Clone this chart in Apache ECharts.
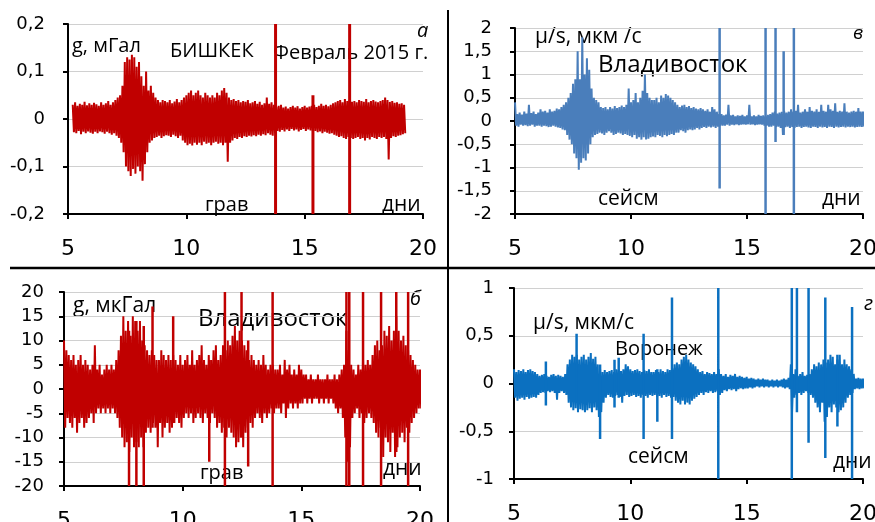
<!DOCTYPE html>
<html>
<head>
<meta charset="utf-8">
<script src="https://cdn.jsdelivr.net/npm/echarts@6/dist/echarts.min.js"></script>
<style>
  html, body { margin: 0; padding: 0; background: #fff; }
  #chart { width: 875px; height: 522px; }
</style>
</head>
<body>
<div id="chart"></div>
<script>
    // envelope samples every 0.1 day: upper / lower extremes of the trace
    const STEP = 0.1;

    // а: Бишкек, грав, мГал (t from 5.2)
    const bishkekStart = 5.2;
    const bishkekUp = [
        0.03, 0.035, 0.028, 0.032, 0.03, 0.036, 0.029, 0.033, 0.03, 0.034,
        0.031, 0.028, 0.035, 0.03, 0.033, 0.038, 0.03, 0.035, 0.04, 0.045,
        0.05, 0.07, 0.12, 0.13, 0.125, 0.135, 0.13, 0.11, 0.12, 0.09,
        0.07, 0.1, 0.06, 0.07, 0.055, 0.045, 0.04, 0.035, 0.04, 0.038,
        0.035, 0.04, 0.033, 0.037, 0.042, 0.035, 0.04, 0.045, 0.05, 0.055,
        0.06, 0.05, 0.055, 0.06, 0.05, 0.045, 0.055, 0.05, 0.045, 0.05,
        0.045, 0.055, 0.05, 0.06, 0.065, 0.055, 0.045, 0.04, 0.042, 0.038,
        0.04, 0.035, 0.038, 0.036, 0.04, 0.033, 0.035, 0.038, 0.032, 0.036,
        0.03, 0.033, 0.045, 0.032, 0.035, 0.03, 0.025, 0.028, 0.03, 0.024,
        0.026, 0.022, 0.025, 0.028, 0.024, 0.027, 0.022, 0.025, 0.028, 0.024,
        0.026, 0.028, 0.03, 0.025, 0.028, 0.032, 0.028, 0.03, 0.027, 0.03,
        0.033, 0.035, 0.038, 0.04, 0.035, 0.042, 0.038, 0.04, 0.036, 0.038,
        0.035, 0.04, 0.038, 0.036, 0.042, 0.035, 0.038, 0.04, 0.037, 0.035,
        0.038, 0.04, 0.045, 0.04, 0.036, 0.038, 0.034, 0.035, 0.032, 0.033,
        0.03
    ];
    const bishkekDown = [
        -0.028, -0.03, -0.025, -0.032, -0.027, -0.03, -0.026, -0.029, -0.031, -0.027,
        -0.03, -0.026, -0.028, -0.031, -0.027, -0.03, -0.033, -0.03, -0.035, -0.04,
        -0.05, -0.07, -0.1, -0.11, -0.12, -0.105, -0.115, -0.1, -0.11, -0.13,
        -0.095, -0.07, -0.05, -0.045, -0.04, -0.038, -0.035, -0.04, -0.036, -0.034,
        -0.035, -0.038, -0.033, -0.036, -0.04, -0.035, -0.045, -0.05, -0.055, -0.052,
        -0.056, -0.05, -0.054, -0.05, -0.055, -0.048, -0.052, -0.05, -0.055, -0.05,
        -0.048, -0.052, -0.05, -0.055, -0.05, -0.09, -0.05, -0.045, -0.04, -0.042,
        -0.038, -0.04, -0.036, -0.038, -0.035, -0.037, -0.034, -0.036, -0.033, -0.035,
        -0.032, -0.034, -0.03, -0.033, -0.035, -0.03, -0.025, -0.027, -0.023, -0.026,
        -0.022, -0.025, -0.021, -0.024, -0.022, -0.026, -0.023, -0.021, -0.025, -0.022,
        -0.024, -0.026, -0.025, -0.028, -0.026, -0.03, -0.027, -0.029, -0.031, -0.03,
        -0.033, -0.035, -0.038, -0.036, -0.04, -0.042, -0.038, -0.04, -0.042, -0.04,
        -0.038, -0.042, -0.04, -0.045, -0.04, -0.043, -0.038, -0.04, -0.042, -0.038,
        -0.04, -0.038, -0.042, -0.085, -0.04, -0.036, -0.038, -0.035, -0.034, -0.032,
        -0.03
    ];
    const bishkekSpikeT = [13.77, 15.35, 16.9];
    const bishkekSpikeHi = [0.2, 0.05, 0.2];
    const bishkekSpikeLo = [-0.2, -0.2, -0.2];

    // в: Владивосток, сейсм, мкм/с (t from 5.0)
    const vladSeisStart = 5.0;
    const vladSeisUp = [
        0.4, 0.15, 0.18, 0.14, 0.2, 0.16, 0.35, 0.17, 0.2, 0.15,
        0.18, 0.25, 0.2, 0.22, 0.18, 0.25, 0.2, 0.22, 0.27, 0.25,
        0.3, 0.35, 0.4, 0.5, 0.6, 0.8, 0.9, 1.5, 0.9, 1.8,
        1.0, 1.35, 1.1, 0.7, 0.5, 0.45, 0.4, 0.3, 0.28, 0.3,
        0.25, 0.3, 0.27, 0.32, 0.28, 0.3, 0.33, 0.3, 0.35, 0.7,
        0.4, 0.45, 0.6, 0.4, 0.5, 0.65, 1.0, 0.6, 0.5, 0.45,
        0.45, 0.5, 0.4, 0.55, 0.5, 0.58, 0.55, 0.5, 0.45, 0.4,
        0.35, 0.3, 0.33, 0.35, 0.3, 0.32, 0.28, 0.3, 0.27, 0.25,
        0.28, 0.25, 0.22, 0.25, 0.2, 0.3, 0.25, 0.2, 0.15, 0.15,
        0.12, 0.14, 0.35, 0.12, 0.13, 0.1, 0.12, 0.11, 0.13, 0.1,
        0.12, 0.35, 0.1, 0.12, 0.1, 0.13, 0.11, 0.12, 0.1, 0.13,
        0.15, 0.18, 0.2, 0.16, 0.18, 0.2, 0.22, 0.18, 0.2, 0.25,
        0.2, 0.22, 0.35, 0.18, 0.2, 0.25, 0.2, 0.3, 0.22, 0.2,
        0.25, 0.2, 0.35, 0.22, 0.2, 0.35, 0.25, 0.22, 0.38, 0.2,
        0.22, 0.2, 0.38, 0.2, 0.18, 0.2, 0.22, 0.2, 0.28, 0.2,
        0.2
    ];
    const vladSeisDown = [
        -0.1, -0.12, -0.08, -0.1, -0.09, -0.11, -0.1, -0.08, -0.12, -0.1,
        -0.1, -0.12, -0.1, -0.11, -0.13, -0.12, -0.1, -0.12, -0.14, -0.15,
        -0.18, -0.2, -0.3, -0.4, -0.5, -0.7, -0.8, -1.05, -0.9, -0.8,
        -0.85, -0.7, -0.5, -0.35, -0.3, -0.28, -0.25, -0.27, -0.3, -0.25,
        -0.22, -0.25, -0.3, -0.28, -0.25, -0.27, -0.3, -0.28, -0.3, -0.32,
        -0.35, -0.3, -0.38, -0.35, -0.4, -0.35, -0.4, -0.38, -0.35, -0.33,
        -0.35, -0.3, -0.32, -0.35, -0.3, -0.33, -0.3, -0.28, -0.3, -0.25,
        -0.25, -0.2, -0.22, -0.25, -0.2, -0.18, -0.2, -0.18, -0.15, -0.18,
        -0.15, -0.13, -0.15, -0.12, -0.14, -0.12, -0.15, -0.12, -0.1, -0.1,
        -0.1, -0.08, -0.1, -0.08, -0.09, -0.07, -0.09, -0.08, -0.07, -0.08,
        -0.07, -0.08, -0.07, -0.09, -0.08, -0.07, -0.08, -0.1, -0.1, -0.12,
        -0.12, -0.1, -0.13, -0.12, -0.15, -0.3, -0.13, -0.12, -0.15, -0.13,
        -0.15, -0.13, -0.12, -0.15, -0.13, -0.12, -0.14, -0.15, -0.12, -0.13,
        -0.15, -0.12, -0.14, -0.13, -0.15, -0.12, -0.13, -0.15, -0.12, -0.14,
        -0.13, -0.12, -0.14, -0.12, -0.13, -0.12, -0.14, -0.13, -0.12, -0.13,
        -0.12
    ];
    const vladSeisSpikeT = [13.82, 15.8, 16.23, 16.58, 17.02];
    const vladSeisSpikeHi = [2, 2, 2, 1.5, 2];
    const vladSeisSpikeLo = [-1.45, -2, -0.45, -0.3, -2];

    // б: Владивосток, грав, мкГал (t from 5.0)
    const vladGravStart = 5.0;
    const vladGravUp = [
        10, 8, 7, 6, 7, 5, 6, 7, 5, 6,
        5, 4, 5, 9, 4, 5, 3, 4, 5, 4,
        5, 4, 6, 8, 11, 15, 12, 14, 11, 15,
        14, 12, 14, 10, 9, 8, 7, 8, 7, 6,
        6, 8, 7, 6, 7, 6, 7, 6, 5, 7,
        5, 6, 7, 5, 8, 5, 6, 7, 9, 6,
        5, 7, 6, 8, 9, 6, 7, 9, 8, 10,
        9, 11, 13, 10, 12, 10, 9, 8, 6, 7,
        6, 5, 6, 5, 7, 5, 4, 5, 5, 4,
        4, 5, 3, 6, 4, 5, 3, 4, 3, 5,
        4, 3, 3, 2, 3, 2, 2, 3, 2, 2,
        2, 3, 2, 2, 3, 2, 3, 4, 5, 12,
        8, 5, 4, 3, 5, 4, 6, 5, 6, 5,
        7, 9, 10, 8, 9, 12, 11, 13, 10, 12,
        15, 12, 10, 11, 9, 8, 7, 6, 5, 4,
        4
    ];
    const vladGravDown = [
        -8, -6, -7, -8, -6, -9, -7, -6, -8, -7,
        -6, -5, -7, -5, -4, -5, -4, -5, -4, -5,
        -4, -5, -6, -8, -10, -12, -11, -13, -10, -12,
        -11, -12, -10, -12, -9, -8, -9, -7, -8, -12,
        -7, -10, -8, -7, -9, -8, -7, -6, -7, -8,
        -6, -5, -6, -5, -7, -6, -5, -6, -7, -5,
        -6, -7, -5, -6, -8, -7, -9, -8, -10, -8,
        -9, -10, -12, -11, -10, -12, -9, -8, -7, -8,
        -6, -5, -6, -7, -5, -6, -5, -4, -5, -4,
        -4, -5, -3, -6, -4, -3, -4, -3, -4, -3,
        -3, -2, -3, -2, -3, -2, -2, -3, -2, -3,
        -2, -3, -2, -3, -4, -5, -4, -6, -10, -15,
        -12, -6, -5, -4, -6, -5, -7, -6, -5, -6,
        -7, -9, -10, -8, -14, -10, -11, -13, -9, -14,
        -12, -10, -9, -11, -8, -9, -7, -6, -5, -4,
        -4
    ];
    const vladGravSpikeT = [7.74, 8.05, 8.36, 8.73, 9.6, 11.12, 11.78, 12.48, 12.76, 13.79, 16.9, 17.02, 17.6, 18.36, 19.0, 19.5];
    const vladGravSpikeHi = [12, 14, 13, 17, 15, 6, 20, 20, 10, 20, 20, 20, 20, 20, 20, 20];
    const vladGravSpikeLo = [-20, -20, -20, -8, -7, -15, -20, -10, -16, -20, -20, -20, -20, -20, -13, -20];

    // г: Воронеж, сейсм, мкм/с (t from 5.0)
    const voronezhStart = 5.0;
    const voronezhUp = [
        0.15, 0.12, 0.14, 0.13, 0.15, 0.12, 0.14, 0.15, 0.13, 0.12,
        0.1, 0.08, 0.09, 0.1, 0.08, 0.07, 0.09, 0.1, 0.08, 0.09,
        0.08, 0.07, 0.1, 0.2, 0.25, 0.3, 0.28, 0.3, 0.25, 0.28,
        0.3, 0.25, 0.28, 0.32, 0.26, 0.28, 0.2, 0.15, 0.12, 0.14,
        0.12, 0.13, 0.14, 0.12, 0.15, 0.14, 0.13, 0.15, 0.2, 0.18,
        0.15, 0.13, 0.14, 0.15, 0.13, 0.12, 0.14, 0.13, 0.15, 0.12,
        0.12, 0.14, 0.12, 0.15, 0.13, 0.12, 0.15, 0.14, 0.16, 0.2,
        0.22, 0.2, 0.25, 0.28, 0.3, 0.25, 0.22, 0.2, 0.18, 0.15,
        0.12, 0.13, 0.1, 0.12, 0.11, 0.1, 0.12, 0.1, 0.15, 0.1,
        0.08, 0.1, 0.07, 0.09, 0.08, 0.1, 0.07, 0.08, 0.07, 0.06,
        0.07, 0.05, 0.06, 0.05, 0.04, 0.05, 0.04, 0.05, 0.04, 0.04,
        0.03, 0.04, 0.03, 0.04, 0.03, 0.04, 0.05, 0.04, 0.06, 0.2,
        0.1, 0.15, 0.08, 0.1, 0.12, 0.08, 0.09, 0.1, 0.15, 0.2,
        0.18, 0.22, 0.2, 0.25, 0.22, 0.25, 0.3, 0.28, 0.2, 0.25,
        0.3, 0.2, 0.25, 0.2, 0.18, 0.15, 0.1, 0.05, 0.06, 0.05,
        0.05
    ];
    const voronezhDown = [
        -0.15, -0.18, -0.16, -0.15, -0.17, -0.14, -0.16, -0.15, -0.14, -0.15,
        -0.12, -0.1, -0.09, -0.1, -0.08, -0.09, -0.08, -0.1, -0.17, -0.1,
        -0.08, -0.1, -0.12, -0.2, -0.25, -0.28, -0.26, -0.3, -0.27, -0.28,
        -0.3, -0.28, -0.26, -0.3, -0.25, -0.28, -0.35, -0.3, -0.2, -0.15,
        -0.12, -0.14, -0.15, -0.13, -0.12, -0.14, -0.2, -0.13, -0.12, -0.14,
        -0.13, -0.12, -0.14, -0.13, -0.15, -0.12, -0.13, -0.15, -0.12, -0.13,
        -0.12, -0.14, -0.13, -0.15, -0.12, -0.14, -0.13, -0.15, -0.14, -0.18,
        -0.2, -0.22, -0.18, -0.22, -0.2, -0.22, -0.18, -0.16, -0.14, -0.12,
        -0.1, -0.12, -0.09, -0.1, -0.08, -0.1, -0.09, -0.08, -0.12, -0.1,
        -0.07, -0.08, -0.06, -0.07, -0.06, -0.08, -0.06, -0.05, -0.06, -0.05,
        -0.05, -0.04, -0.05, -0.04, -0.03, -0.04, -0.03, -0.04, -0.03, -0.04,
        -0.03, -0.04, -0.03, -0.04, -0.03, -0.04, -0.05, -0.04, -0.06, -0.3,
        -0.15, -0.12, -0.1, -0.12, -0.1, -0.08, -0.1, -0.12, -0.15, -0.2,
        -0.25, -0.3, -0.2, -0.4, -0.35, -0.25, -0.3, -0.22, -0.25, -0.3,
        -0.28, -0.25, -0.2, -0.15, -0.12, -0.1, -0.06, -0.05, -0.06, -0.05,
        -0.05
    ];
    const voronezhSpikeT = [6.37, 7.69, 8.7, 9.32, 9.5, 10.57, 11.16, 11.79, 13.78, 16.94, 17.16, 17.66, 18.38, 18.9, 19.53];
    const voronezhSpikeHi = [0.23, 0.52, 0.2, 0.25, 0.27, 0.52, 0.15, 0.9, 1, 1, 1, 1, 0.9, 0.3, 0.8];
    const voronezhSpikeLo = [-0.23, -0.2, -0.58, -0.25, -0.15, -0.58, -0.4, -0.58, -1, -1, -0.3, -0.62, -0.78, -0.45, -1];

    const xTicks = [5, 10, 15, 20];

    const RED = '#c00000';
    const BLUE_V = '#4a7ebb';
    const BLUE_R = '#0b70c0';
    const FONT = '"Open Sans", sans-serif';
    const TICK_FONT = '"DejaVu Sans", sans-serif';

    // trace alternates between the upper and lower envelope
    function zigzag(start, up, down) {
        const pts = [];
        up.forEach((u, i) => {
            const t = start + i * STEP;
            pts.push([t, u], [t + STEP / 2, down[i]]);
        });
        return pts;
    }

    function spikes(ts, hi, lo) {
        const pts = [];
        ts.forEach((t, i) => {
            pts.push([t, lo[i]], [t, hi[i]], [t, '-']);
        });
        return pts;
    }

    const comma = v => String(+v.toFixed(2)).replace('.', ',');

    function xAxis(idx) {
        return {
            gridIndex: idx,
            type: 'value',
            min: xTicks[0],
            max: xTicks[xTicks.length - 1],
            interval: 5,
            splitLine: { show: false },
            axisLine: { onZero: false, lineStyle: { color: '#000', width: 2 } },
            axisTick: { show: true, length: 5, lineStyle: { color: '#000', width: 2 } },
            axisLabel: { color: '#000', fontSize: 22, fontFamily: TICK_FONT, margin: 24 }
        };
    }

    function yAxis(idx, lim, step, margin) {
        return {
            gridIndex: idx,
            type: 'value',
            min: -lim,
            max: lim,
            interval: step,
            axisLine: { show: true, onZero: false, lineStyle: { color: '#000', width: 2 } },
            axisTick: { show: true, length: 5, lineStyle: { color: '#000', width: 2 } },
            splitLine: { lineStyle: { color: '#d0d0d0', width: 1 } },
            axisLabel: { color: '#000', fontSize: 18, fontFamily: TICK_FONT, margin: margin, formatter: comma }
        };
    }

    function trace(idx, data, color, width) {
        return {
            type: 'line',
            xAxisIndex: idx,
            yAxisIndex: idx,
            data: data,
            showSymbol: false,
            connectNulls: false,
            lineStyle: { color: color, width: width },
            animation: false,
            silent: true
        };
    }

    function label(text, left, top, size, italic) {
        return {
            type: 'text',
            left: left,
            top: top,
            style: {
                text: text,
                fill: '#000',
                font: (italic ? 'italic ' : '') + size + 'px ' + FONT
            }
        };
    }

    const chart = echarts.init(document.getElementById('chart'));
    chart.setOption({
        animation: false,
        grid: [
            { left: 68, top: 24, width: 355, height: 190, outerBoundsMode: 'none' },
            { left: 515, top: 28, width: 348, height: 186, outerBoundsMode: 'none' },
            { left: 64, top: 292, width: 356, height: 194, outerBoundsMode: 'none' },
            { left: 514, top: 288, width: 349, height: 191, outerBoundsMode: 'none' }
        ],
        xAxis: [xAxis(0), xAxis(1), xAxis(2), xAxis(3)],
        yAxis: [
            yAxis(0, 0.2, 0.1, 23),
            yAxis(1, 2, 0.5, 23),
            yAxis(2, 20, 5, 20),
            yAxis(3, 1, 0.5, 20)
        ],
        series: [
            trace(0, zigzag(bishkekStart, bishkekUp, bishkekDown), RED, 2),
            trace(0, spikes(bishkekSpikeT, bishkekSpikeHi, bishkekSpikeLo), RED, 3),
            trace(1, zigzag(vladSeisStart, vladSeisUp, vladSeisDown), BLUE_V, 2),
            trace(1, spikes(vladSeisSpikeT, vladSeisSpikeHi, vladSeisSpikeLo), BLUE_V, 2.5),
            trace(2, zigzag(vladGravStart, vladGravUp, vladGravDown), RED, 2),
            trace(2, spikes(vladGravSpikeT, vladGravSpikeHi, vladGravSpikeLo), RED, 2.5),
            trace(3, zigzag(voronezhStart, voronezhUp, voronezhDown), BLUE_R, 2),
            trace(3, spikes(voronezhSpikeT, voronezhSpikeHi, voronezhSpikeLo), BLUE_R, 2.5)
        ],
        graphic: [
            { type: 'line', shape: { x1: 10, y1: 268, x2: 875, y2: 268 }, style: { stroke: '#000', lineWidth: 2.5 } },
            { type: 'line', shape: { x1: 448, y1: 10, x2: 448, y2: 522 }, style: { stroke: '#000', lineWidth: 2 } },

            label('g, мГал', 72, 36, 20),
            label('БИШКЕК', 170, 41, 20),
            label('Февраль 2015 г.', 273, 43, 20),
            label('а', 417, 21, 20, true),
            label('грав', 205, 195, 20),
            label('дни', 382, 195, 21),

            label('μ/s, мкм /с', 535, 27, 21),
            label('Владивосток', 598, 53, 24),
            label('в', 853, 24, 19, true),
            label('сейсм', 598, 189, 21),
            label('дни', 822, 189, 21),

            label('g, мкГал', 73, 296, 21),
            label('Владивосток', 198, 307, 24),
            label('б', 410, 289, 20, true),
            label('грав', 200, 463, 20),
            label('дни', 383, 459, 21),

            label('μ/s, мкм/с', 533, 313, 21),
            label('Воронеж', 615, 339, 20),
            label('г', 864, 294, 20, true),
            label('сейсм', 628, 447, 21),
            label('дни', 833, 452, 21)
        ]
    });
</script>
</body>
</html>
